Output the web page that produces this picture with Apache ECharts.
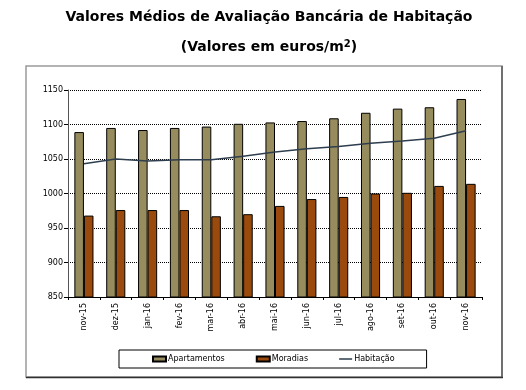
<!DOCTYPE html>
<html>
<head>
<meta charset="utf-8">
<script src="https://cdn.jsdelivr.net/npm/echarts@6/dist/echarts.min.js"></script>
<style>html,body{margin:0;padding:0;background:#fff}#c{width:526px;height:390px}</style>
</head>
<body>
<div id="c"></div>
<script>
const categories = ['nov-15','dez-15','jan-16','fev-16','mar-16','abr-16','mai-16','jun-16','jul-16','ago-16','set-16','out-16','nov-16'];
const apartamentos = [1089,1095,1092,1095,1097,1101,1103,1105,1109,1117,1123,1125,1137];
const moradias = [968,976,976,976,967,970,982,992,995,1000,1001,1011,1014];
const habitacao = [1043,1050,1047,1049,1049,1054,1060,1065,1068,1073,1076,1080,1091];
const yTicks = {min: 850, max: 1150, interval: 50};

const chart = echarts.init(document.getElementById('c'), null, {renderer: 'canvas'});
const F = '"DejaVu Sans", Verdana, sans-serif';
chart.setOption({
  animation: false,
  backgroundColor: '#fff',
  textStyle: {fontFamily: F},
  graphic: [
    {type: 'rect', shape: {x: 26, y: 66, width: 476, height: 311}, style: {fill: 'none', stroke: '#9a9a9a', lineWidth: 1.5}, z: 0},
    {type: 'line', shape: {x1: 502, y1: 66, x2: 502, y2: 378}, style: {stroke: '#707070', lineWidth: 2}},
    {type: 'line', shape: {x1: 26, y1: 377.5, x2: 503, y2: 377.5}, style: {stroke: '#303030', lineWidth: 1.5}},
    {type: 'text', x: 269, y: 17, style: {text: 'Valores Médios de Avaliação Bancária de Habitação', fontSize: 14, fontWeight: 'bold', fontFamily: F, fill: '#000', align: 'center', verticalAlign: 'middle'}},
    {type: 'text', x: 269, y: 47, style: {text: '(Valores em euros/m{s|2})', fontSize: 14, fontWeight: 'bold', fontFamily: F, fill: '#000', align: 'center', verticalAlign: 'middle',
      rich: {s: {fontSize: 10, fontWeight: 'bold', fontFamily: F, fill: '#000', verticalAlign: 'top', padding: [0, 0, 0, 0], lineHeight: 16}}}}
  ],
  grid: {left: 68, right: 44, top: 90, bottom: 93, containLabel: false},
  legend: {
    left: 119, top: 350,
    padding: [5, 32, 5, 33],
    itemGap: 31,
    itemWidth: 13, itemHeight: 5,
    borderColor: '#000', borderWidth: 1,
    textStyle: {fontSize: 8, color: '#000', fontFamily: F, padding: [0, 0, 0, -3]},
    data: [
      {name: 'Apartamentos', icon: 'rect'},
      {name: 'Moradias', icon: 'rect'},
      {name: 'Habitação', icon: 'path://M0,0h0.01v0.01h-0.01z M0,1.8h13v1.4h-13z M0,5h0.01v-0.01h-0.01z'}
    ]
  },
  xAxis: {
    type: 'category',
    data: categories,
    boundaryGap: true,
    axisLine: {lineStyle: {color: '#000', width: 1}},
    axisTick: {show: true, alignWithLabel: false, interval: 0, length: 3, lineStyle: {color: '#000'}},
    axisLabel: {rotate: 90, interval: 0, fontSize: 8, color: '#000', margin: 6, fontFamily: F}
  },
  yAxis: {
    type: 'value',
    min: yTicks.min, max: yTicks.max, interval: yTicks.interval,
    axisLine: {show: true, lineStyle: {color: '#555', width: 1}},
    axisTick: {show: true, length: 4, lineStyle: {color: '#000'}},
    axisLabel: {fontSize: 8, color: '#000', margin: 5, fontFamily: F, formatter: v => String(v)},
    splitLine: {show: true, lineStyle: {color: '#000', type: [1, 1], width: 1}}
  },
  series: [
    {name: 'Apartamentos', type: 'bar', data: apartamentos, barGap: '0%', barCategoryGap: '40%',
     itemStyle: {color: '#978c5d', borderColor: '#000', borderWidth: 1}},
    {name: 'Moradias', type: 'bar', data: moradias,
     itemStyle: {color: '#9b4a0d', borderColor: '#000', borderWidth: 1}},
    {name: 'Habitação', type: 'line', data: habitacao, symbol: 'none', z: 5,
     lineStyle: {color: '#2e3e4e', width: 1.5}, itemStyle: {color: '#2e3e4e'}}
  ]
});
</script>
</body>
</html>
